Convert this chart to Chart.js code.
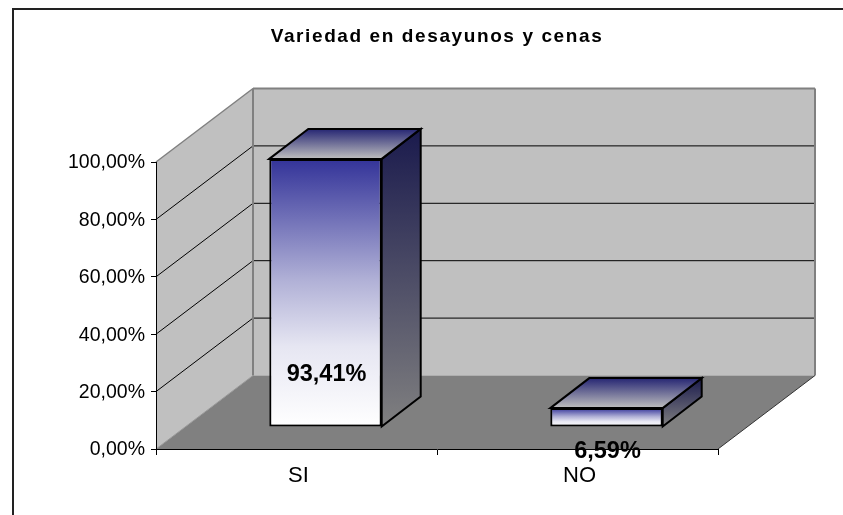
<!DOCTYPE html>
<html>
<head>
<meta charset="utf-8">
<style>
  html, body { margin: 0; padding: 0; background: #fff; }
  #wrap { width: 843px; height: 515px; }
</style>
<script src="https://cdn.jsdelivr.net/npm/chart.js@4"></script>
</head>
<body>
<div id="wrap"><canvas id="myChart" width="843" height="515"></canvas></div>
<script>
const categories = ['SI', 'NO'];
const values = [93.41, 6.59];
const valueLabels = ['93,41%', '6,59%'];
const tickValues = [0, 20, 40, 60, 80, 100];
const chartTitle = 'Variedad en desayunos y cenas';

// 3D look: how far the back wall sits from the front plane
const depthX = 97, depthY = -73.5;
// bars stand a bit inside the floor, and have their own depth
const barShiftX = 29, barShiftY = -22;
const barDepthX = 39, barDepthY = -30;
// data label position, relative to base of bar
const labelOffsetY = [-52, 25];

function poly(ctx, pts, fill, stroke, lw) {
    ctx.beginPath();
    pts.forEach((p, i) => i ? ctx.lineTo(p[0], p[1]) : ctx.moveTo(p[0], p[1]));
    ctx.closePath();
    if (fill) { ctx.fillStyle = fill; ctx.fill(); }
    if (stroke) { ctx.strokeStyle = stroke; ctx.lineWidth = lw || 1; ctx.lineJoin = 'miter'; ctx.stroke(); }
}

function line(ctx, x1, y1, x2, y2, color, lw) {
    ctx.beginPath();
    ctx.moveTo(x1, y1);
    ctx.lineTo(x2, y2);
    ctx.strokeStyle = color;
    ctx.lineWidth = lw;
    ctx.stroke();
}

function vGrad(ctx, y1, y2, c1, c2) {
    const g = ctx.createLinearGradient(0, y1, 0, y2);
    g.addColorStop(0, c1);
    g.addColorStop(1, c2);
    return g;
}

const frame3d = {
    id: 'frame3d',
    beforeDraw(chart) {
        const ctx = chart.ctx;
        const x = chart.scales.x, y = chart.scales.y;
        const l = x.left, r = x.right, t = y.getPixelForValue(100), b = y.getPixelForValue(0);

        // title is spaced out in the original
        const block = chart.titleBlock;
        if (!block.spaced) {
            const draw = block.draw;
            block.draw = function () {
                ctx.letterSpacing = '1.6px';
                draw.call(block);
                ctx.letterSpacing = '0px';
            };
            block.spaced = true;
        }

        ctx.save();
        // outer frame
        line(ctx, 13, 9, 843, 9, '#222', 2);
        line(ctx, 13, 8, 13, 515, '#222', 2);

        // walls and floor
        poly(ctx, [[l + depthX, t + depthY], [r + depthX, t + depthY], [r + depthX, b + depthY], [l + depthX, b + depthY]], '#c0c0c0');
        poly(ctx, [[l, t], [l + depthX, t + depthY], [l + depthX, b + depthY], [l, b]], '#c0c0c0');
        poly(ctx, [[l, b], [r, b], [r + depthX, b + depthY], [l + depthX, b + depthY]], '#808080');

        // gridlines over both walls
        tickValues.forEach(v => {
            if (v === 0 || v === 100) return;
            const py = y.getPixelForValue(v);
            line(ctx, l, py, l + depthX, py + depthY, '#000', 1);
            line(ctx, l + depthX, py + depthY, r + depthX, py + depthY, '#000', 1);
        });

        // wall edges
        line(ctx, l, t, l + depthX, t + depthY, '#808080', 1.5);
        line(ctx, l + depthX, t + depthY, r + depthX, t + depthY, '#808080', 2);
        line(ctx, r + depthX, t + depthY, r + depthX, b + depthY, '#808080', 2);
        line(ctx, l + depthX, t + depthY, l + depthX, b + depthY, '#808080', 2);
        line(ctx, l, b, l + depthX, b + depthY, '#999', 1);
        line(ctx, r, b, r + depthX, b + depthY, '#333', 1);
        ctx.restore();
    },
    beforeDatasetsDraw(chart) {
        const ctx = chart.ctx;
        ctx.save();
        // top and side of every bar, front comes from the library
        chart.getDatasetMeta(0).data.forEach(bar => {
            const x1 = bar.x - bar.width / 2 + barShiftX, x2 = bar.x + bar.width / 2 + barShiftX;
            const yt = bar.y + barShiftY, yb = bar.base + barShiftY;
            poly(ctx, [[x2, yt], [x2 + barDepthX, yt + barDepthY], [x2 + barDepthX, yb + barDepthY], [x2, yb]],
                vGrad(ctx, yt + barDepthY, yb, '#1a1a4d', '#808080'), '#000', 2);
            poly(ctx, [[x1, yt], [x1 + barDepthX, yt + barDepthY], [x2 + barDepthX, yt + barDepthY], [x2, yt]],
                vGrad(ctx, yt + barDepthY, yt, '#262673', '#bfbfbf'), '#000', 2);
        });
        ctx.restore();

        // bars are drawn moved into the floor
        ctx.save();
        ctx.translate(barShiftX, barShiftY);
    },
    afterDatasetsDraw(chart) {
        const ctx = chart.ctx;
        ctx.restore();

        ctx.save();
        ctx.font = 'bold 23.5px "Liberation Sans"';
        ctx.fillStyle = '#000';
        ctx.textAlign = 'center';
        ctx.textBaseline = 'middle';
        chart.getDatasetMeta(0).data.forEach((bar, i) => {
            ctx.fillText(valueLabels[i], bar.x + barShiftX + 1, bar.base + barShiftY + labelOffsetY[i]);
        });
        ctx.restore();
    }
};

new Chart(document.getElementById('myChart'), {
    type: 'bar',
    data: {
        labels: categories,
        datasets: [{
            data: values,
            clip: false,
            backgroundColor(c) {
                const y = c.chart.scales.y;
                // first call comes before the layout is done
                if (!y || c.raw === undefined) return '#333399';
                const top = y.getPixelForValue(c.raw), base = y.getPixelForValue(0);
                if (!isFinite(top) || !isFinite(base)) return '#333399';
                const g = vGrad(c.chart.ctx, top, base, '#333399', '#ffffff');
                g.addColorStop(0.45, '#b0b0d6');
                g.addColorStop(0.7, '#e6e6f2');
                return g;
            },
            borderColor: '#000',
            borderWidth: 2,
            borderSkipped: false,
            barPercentage: 1,
            categoryPercentage: 0.4
        }]
    },
    plugins: [frame3d],
    options: {
        responsive: false,
        animation: false,
        layout: { padding: { left: 13, right: 125, top: 0, bottom: 0 } },
        plugins: {
            legend: { display: false },
            tooltip: { enabled: false },
            title: {
                display: true,
                fullSize: false,
                text: chartTitle,
                color: '#000',
                font: { family: '"Liberation Sans"', size: 19, weight: 'bold', lineHeight: 1 },
                padding: { top: 27, bottom: 116 }
            }
        },
        scales: {
            x: {
                afterFit(s) { s.height = 66; },
                grid: { display: true, drawOnChartArea: false, color: '#000', tickLength: 6, tickColor: '#000' },
                border: { display: true, color: '#000', width: 1 },
                ticks: { color: '#000', font: { family: '"Liberation Sans"', size: 22 }, padding: 8, labelOffset: 2, maxRotation: 0 }
            },
            y: {
                min: 0,
                max: 100,
                afterFit(s) { s.width = 143; },
                grid: { display: true, drawOnChartArea: false, color: '#000', tickLength: 5, tickColor: '#000' },
                border: { display: true, color: '#000', width: 1 },
                ticks: {
                    color: '#000',
                    font: { family: '"Liberation Sans"', size: 19.5 },
                    padding: 6,
                    labelOffset: 1,
                    stepSize: 20,
                    callback: v => v.toFixed(2).replace('.', ',') + '%'
                }
            }
        }
    }
});
</script>
</body>
</html>
